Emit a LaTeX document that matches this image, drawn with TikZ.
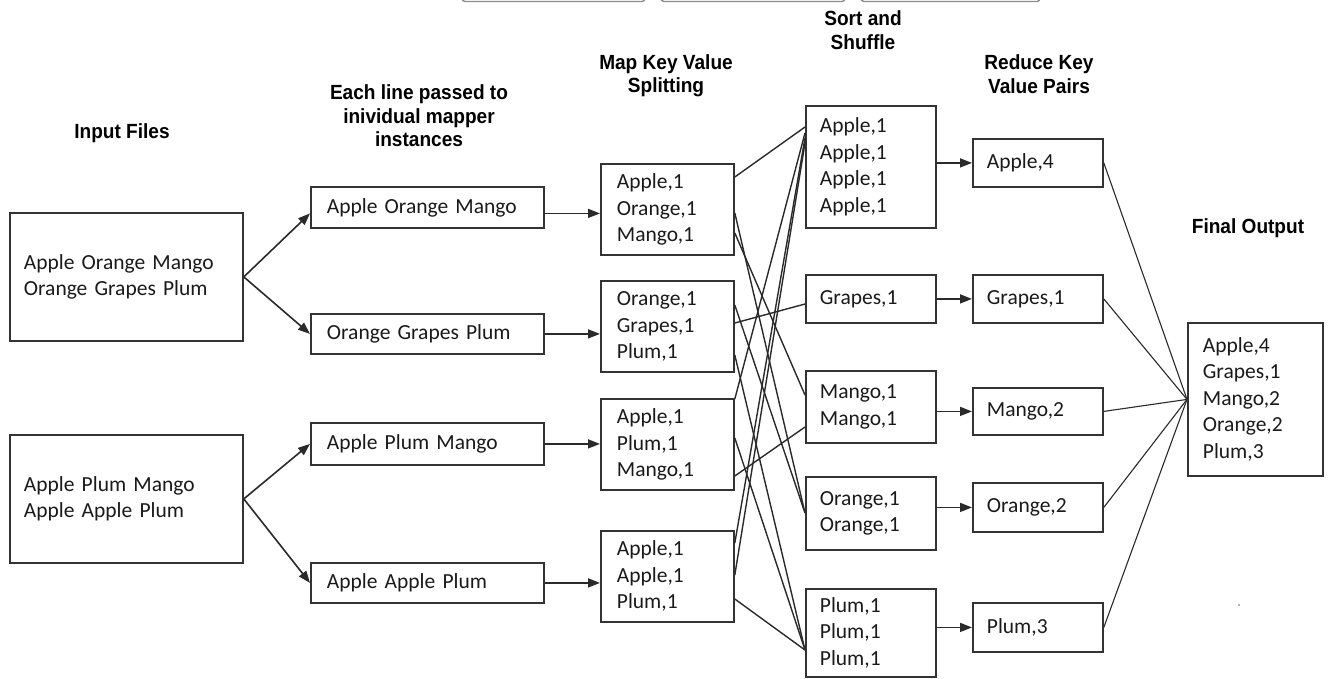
\documentclass[tikz,border=0pt]{standalone}
\usepackage{fontspec}
\setmainfont{Carlito}[WordSpace=0.7]
\newfontfamily\ttlfont{Liberation Sans}[FakeStretch=0.93]
\usetikzlibrary{calc,arrows.meta}
\definecolor{boxc}{HTML}{333333}
\definecolor{linec}{HTML}{2A2A2A}
\definecolor{txtc}{HTML}{1A1A1A}
\begin{document}
\begin{tikzpicture}[x=1pt,y=-1pt,
  bx/.style={draw=boxc, line width=1.8pt, fill=white, anchor=north west,
    inner xsep=14pt, inner ysep=0pt, align=left, text=txtc,
    font=\fontsize{21.5}{26.5}\selectfont},
  ttl/.style={align=center, text=black,
    font=\ttlfont\bfseries\fontsize{20.5}{23.5}\selectfont},
  arr/.style={draw=linec, line width=1.6pt, -{Triangle[length=12pt,width=9pt]}},
  lnk/.style={draw=linec, line width=1.4pt},
  outl/.style={draw=linec, line width=1.1pt},
  topbar/.style={draw=black!45, line width=1.4pt, rounded corners=3pt}]
\fill[white] (0,0) rectangle (1328,678);
\useasboundingbox (0,0) rectangle (1328,678);

% cut-off bars at the top edge
\draw[topbar] (462,-12) rectangle (645,1.5);
\draw[topbar] (661,-12) rectangle (845,1.5);
\draw[topbar] (861,-12) rectangle (1040,1.5);

% titles
\node[ttl] (t1) at (122,133) {Input Files};
\node[ttl] (t2) at (419,116) {Each line passed to\\inividual mapper\\instances};
\node[ttl] (t3) at (666,75.5) {Map Key Value\\Splitting};
\node[ttl] (t4) at (863,30) {Sort and\\Shuffle};
\node[ttl] (t5) at (1039,74) {Reduce Key\\Value Pairs};
\node[ttl] (t6) at (1248,228) {Final Output};

% input files
\node[bx, minimum width=233pt, minimum height=128pt, text width=205pt] (in1) at (9,212) {Apple Orange Mango\\Orange Grapes Plum};
\node[bx, minimum width=233pt, minimum height=128pt, text width=205pt] (in2) at (9,434) {Apple Plum Mango\\Apple Apple Plum};

% mapper instances
\node[bx, inner xsep=16pt, minimum width=233pt, minimum height=41pt, text width=201pt] (a1) at (310,186) {Apple Orange Mango};
\node[bx, inner xsep=16pt, minimum width=233pt, minimum height=40pt, text width=201pt] (a2) at (310,313) {Orange Grapes Plum};
\node[bx, inner xsep=16pt, minimum width=233pt, minimum height=42pt, text width=201pt] (a3) at (310,422) {Apple Plum Mango};
\node[bx, inner xsep=16pt, minimum width=233pt, minimum height=40pt, text width=201pt] (a4) at (310,562) {Apple Apple Plum};

% map key value splitting
\node[bx, inner xsep=16pt, minimum width=133pt, minimum height=91pt, text width=101pt] (m1) at (600,163) {Apple,1\\Orange,1\\Mango,1};
\node[bx, inner xsep=16pt, minimum width=133pt, minimum height=91pt, text width=101pt] (m2) at (600,280) {Orange,1\\Grapes,1\\Plum,1};
\node[bx, inner xsep=16pt, minimum width=133pt, minimum height=91pt, text width=101pt] (m3) at (600,398) {Apple,1\\Plum,1\\Mango,1};
\node[bx, inner xsep=16pt, minimum width=133pt, minimum height=91pt, text width=101pt] (m4) at (600,530) {Apple,1\\Apple,1\\Plum,1};

% sort and shuffle
\node[bx, minimum width=130pt, minimum height=122pt, text width=102pt] (s1) at (805,105) {Apple,1\\Apple,1\\Apple,1\\Apple,1};
\node[bx, minimum width=130pt, minimum height=48pt, text width=102pt] (s2) at (805,274) {Grapes,1};
\node[bx, minimum width=130pt, minimum height=72pt, text width=102pt] (s3) at (805,370) {Mango,1\\Mango,1};
\node[bx, minimum width=130pt, minimum height=73pt, text width=102pt] (s4) at (805,476) {Orange,1\\Orange,1};
\node[bx, minimum width=130pt, minimum height=88pt, text width=102pt] (s5) at (805,588) {Plum,1\\Plum,1\\Plum,1};

% reduce
\node[bx, minimum width=130pt, minimum height=48pt, text width=102pt] (r1) at (972,138) {Apple,4};
\node[bx, minimum width=130pt, minimum height=48pt, text width=102pt] (r2) at (972,274) {Grapes,1};
\node[bx, minimum width=130pt, minimum height=47pt, text width=102pt] (r3) at (972,387) {Mango,2};
\node[bx, minimum width=130pt, minimum height=49pt, text width=102pt] (r4) at (972,482) {Orange,2};
\node[bx, minimum width=130pt, minimum height=49pt, text width=102pt] (r5) at (972,602) {Plum,3};

% final output
\node[bx, inner xsep=15pt, minimum width=135pt, minimum height=153pt, text width=105pt] (fin) at (1187,322) {Apple,4\\Grapes,1\\Mango,2\\Orange,2\\Plum,3};

% input -> mapper
\draw[arr] (in1.east) -- ([yshift=-6pt]a1.west);
\draw[arr] (in1.east) -- (a2.west);
\draw[arr] (in2.east) -- (a3.west);
\draw[arr] (in2.east) -- (a4.west);

% mapper -> map
\draw[arr] ([yshift=-6pt]a1.east) -- ([yshift=-6pt]a1.east -| m1.west);
\draw[arr] (a2.east) -- (a2.east -| m2.west);
\draw[arr] (a3.east) -- (a3.east -| m3.west);
\draw[arr] (a4.east) -- (a4.east -| m4.west);

% map -> shuffle
\draw[lnk] ($(m1.north east)+(0,14)$) -- ($(s1.north west)+(0,22)$);
\draw[lnk] ($(m1.north east)+(0,50)$) -- ($(s4.north west)+(0,37)$);
\draw[lnk] ($(m1.north east)+(0,70)$) -- ($(s3.north west)+(0,25)$);
\draw[lnk] ($(m2.north east)+(0,25)$) -- ($(s4.north west)+(0,37)$);
\draw[lnk] ($(m2.north east)+(0,43)$) -- ($(s2.north west)+(0,30)$);
\draw[lnk] ($(m2.north east)+(0,75)$) -- ($(s5.north west)+(0,62)$);
\draw[lnk] ($(m3.north east)+(0,1)$) -- ($(s1.north west)+(0,28)$);
\draw[lnk] ($(m3.north east)+(0,40)$) -- ($(s5.north west)+(0,62)$);
\draw[lnk] ($(m3.north east)+(0,78)$) -- ($(s3.north west)+(0,57)$);
\draw[lnk] ($(m4.north east)+(0,13)$) -- ($(s1.north west)+(0,33)$);
\draw[lnk] ($(m4.north east)+(0,45)$) -- ($(s1.north west)+(0,38)$);
\draw[lnk] ($(m4.north east)+(0,69)$) -- ($(s5.north west)+(0,62)$);

% shuffle -> reduce
\draw[arr] (r1.west -| s1.east) -- (r1.west);
\draw[arr] (r2.west -| s2.east) -- (r2.west);
\draw[arr] (r3.west -| s3.east) -- (r3.west);
\draw[arr] (r4.west -| s4.east) -- (r4.west);
\draw[arr] (r5.west -| s5.east) -- (r5.west);

% reduce -> final
\draw[outl] (r1.east) -- (fin.west);
\draw[outl] (r2.east) -- (fin.west);
\draw[outl] (r3.east) -- (fin.west);
\draw[outl] (r4.east) -- (fin.west);
\draw[outl] (r5.east) -- (fin.west);

% speck
\fill[black!60] (1239,605) circle (0.9);
\end{tikzpicture}
\end{document}
